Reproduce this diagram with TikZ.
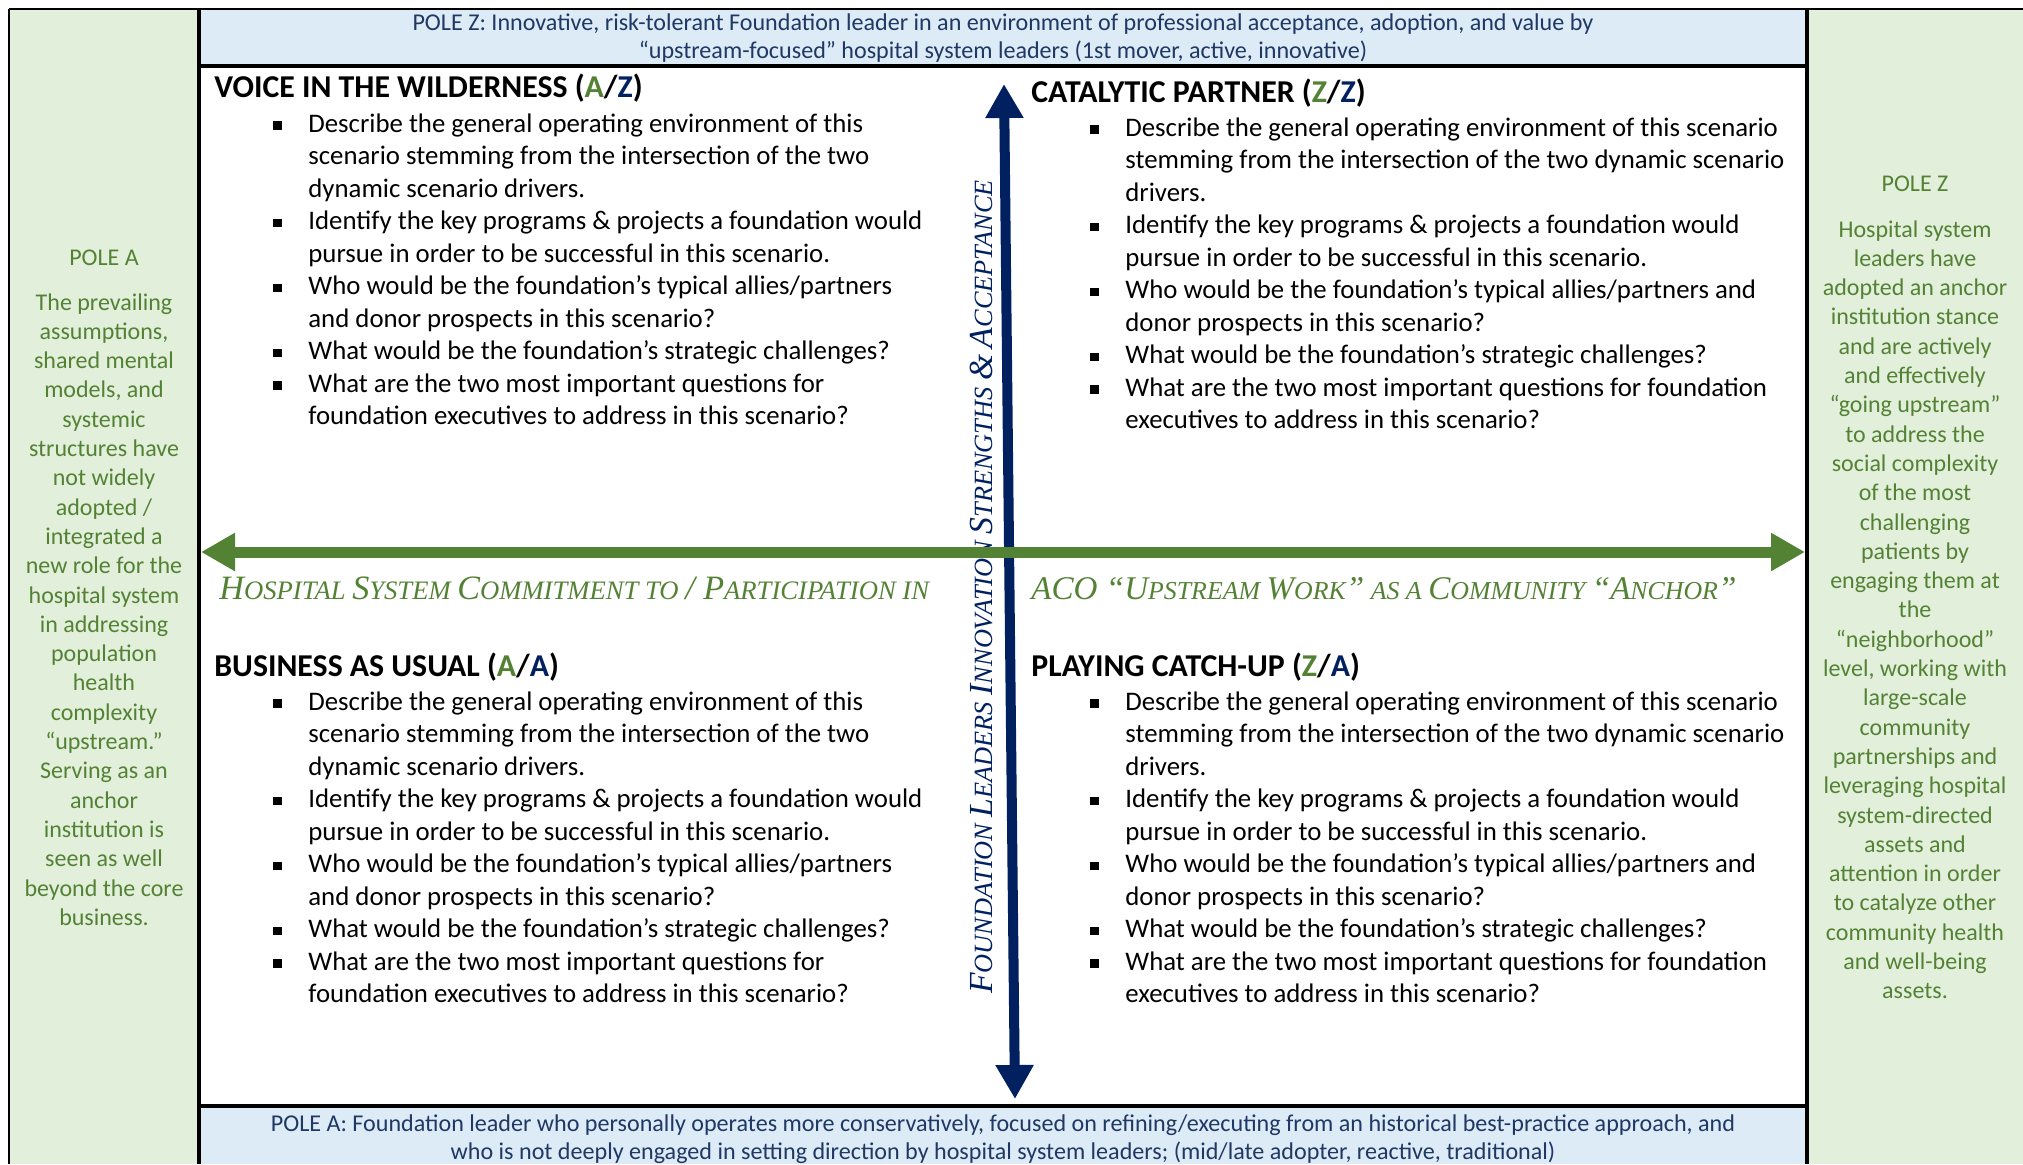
\documentclass[tikz,border=0pt]{standalone}
\usepackage{fontspec}
\setmainfont{Carlito}
\newfontfamily\axfont{Liberation Serif}
\usetikzlibrary{arrows.meta}

\definecolor{panelgreen}{HTML}{E2EFDA}
\definecolor{headblue}{HTML}{DDEBF7}
\definecolor{leafgreen}{HTML}{548235}
\definecolor{navy}{HTML}{002060}
\definecolor{headnavy}{HTML}{1F3864}

% fake italic small caps for the axis captions; \axf scales a caption
\def\axf{1}
\newcommand\capbig[1]{{\fontsize{\fpeval{16.85*\axf}}{20}\selectfont #1}}
\newcommand\capsmall[1]{{\fontsize{\fpeval{13.15*\axf}}{16}\selectfont #1}}

% one bulleted question: square bullet, then the lines of the item
\newcommand\qpoint[1]{\par\noindent\hangindent=47pt\hangafter=1%
  \makebox[47pt][l]{\hspace{29.5pt}\raisebox{1.2pt}{\rule{4.2pt}{4.2pt}}}#1\par}

\newcommand\questionsnarrow{%
\parbox[t]{440pt}{%
\qpoint{Describe the general operating environment of this\\scenario stemming from the intersection of the two\\dynamic scenario drivers.}
\qpoint{Identify the key programs \& projects a foundation would\\pursue in order to be successful in this scenario.}
\qpoint{Who would be the foundation’s typical allies/partners\\and donor prospects in this scenario?}
\qpoint{What would be the foundation’s strategic challenges?}
\qpoint{What are the two most important questions for\\foundation executives to address in this scenario?}}}

\newcommand\questionswide{%
\parbox[t]{440pt}{%
\qpoint{Describe the general operating environment of this scenario\\stemming from the intersection of the two dynamic scenario\\drivers.}
\qpoint{Identify the key programs \& projects a foundation would\\pursue in order to be successful in this scenario.}
\qpoint{Who would be the foundation’s typical allies/partners and\\donor prospects in this scenario?}
\qpoint{What would be the foundation’s strategic challenges?}
\qpoint{What are the two most important questions for foundation\\executives to address in this scenario?}}}

\tikzset{
  qtitle/.style={inner sep=0pt, font=\fontsize{15.9}{18}\selectfont\bfseries},
  qbody/.style={inner sep=0pt, font=\fontsize{13.4}{16.25}\selectfont},
  sidetext/.style={inner sep=0pt, text=leafgreen, font=\fontsize{12}{14.65}\selectfont},
  headtext/.style={inner sep=0pt, text=headnavy, font=\fontsize{12.05}{14.2}\selectfont},
  axislabel/.style={inner sep=0pt, text=leafgreen, font=\axfont\itshape\fontsize{13.15}{16}\selectfont},
  vlabel/.style={inner sep=0pt, text=navy, rotate=90, font=\axfont\itshape\fontsize{13.15}{16}\selectfont},
  navyarrow/.style={draw=navy, line width=5pt,
    {Triangle[length=17pt,width=18pt]}-{Triangle[length=17pt,width=18pt]}},
  greenarrow/.style={draw=leafgreen, line width=5.5pt,
    {Triangle[length=17pt,width=18pt]}-{Triangle[length=17pt,width=18pt]}},
  frameline/.style={draw=black, line width=1.3pt},
  ruleline/.style={draw=black, line width=1.8pt}
}

\begin{document}
\begin{tikzpicture}[x=0.5pt,y=-0.5pt]
\useasboundingbox (0,0) rectangle (2023,1164);
\fill[white] (0,0) rectangle (2023,1164);

% side panels and pole bands
\fill[panelgreen] (9,9) rectangle (199,1164);
\fill[panelgreen] (1807,9) rectangle (2023,1164);
\fill[headblue] (199,9) rectangle (1807,66);
\fill[headblue] (199,1106) rectangle (1807,1164);

% frame
\draw[frameline] (9,9) -- (2023,9);
\draw[frameline] (9,9) -- (9,1164);
\draw[ruleline] (199,9) -- (199,1164);
\draw[ruleline] (1807,9) -- (1807,1164);
\draw[ruleline] (199,66) -- (1807,66);
\draw[ruleline] (199,1106) -- (1807,1106);

% pole Z / pole A bands
\node[headtext, anchor=base] (poleZband) at (1003,30) {\parbox[t]{790pt}{\centering
POLE Z: Innovative, risk-tolerant Foundation leader in an environment of professional acceptance, adoption, and value by\\
“upstream-focused” hospital system leaders (1st mover, active, innovative)}};
\node[headtext, anchor=base] (poleAband) at (1003,1131) {\parbox[t]{790pt}{\centering
POLE A: Foundation leader who personally operates more conservatively, focused on refining/executing from an historical best-practice approach, and\\
who is not deeply engaged in setting direction by hospital system leaders; (mid/late adopter, reactive, traditional)}};

% left panel
\node[sidetext, anchor=base] (poleAhead) at (104,265) {POLE A};
\node[sidetext, anchor=base] (poleAbody) at (104,310) {\parbox[t]{95pt}{\centering
The prevailing\\assumptions,\\shared mental\\models, and\\systemic\\structures have\\not widely\\adopted /\\integrated a\\new role for the\\hospital system\\in addressing\\population\\health\\complexity\\“upstream.”\\Serving as an\\anchor\\institution is\\seen as well\\beyond the core\\business.}};

% right panel
\node[sidetext, anchor=base] (poleZhead) at (1915,191) {POLE Z};
\node[sidetext, anchor=base] (poleZbody) at (1915,237) {\parbox[t]{105pt}{\centering
Hospital system\\leaders have\\adopted an anchor\\institution stance\\and are actively\\and effectively\\“going upstream”\\to address the\\social complexity\\of the most\\challenging\\patients by\\engaging them at\\the\\“neighborhood”\\level, working with\\large-scale\\community\\partnerships and\\leveraging hospital\\system-directed\\assets and\\attention in order\\to catalyze other\\community health\\and well-being\\assets.}};

% quadrant titles
\node[qtitle, anchor=base west] (voicetitle) at (214,97) {VOICE IN THE WILDERNESS (\textcolor{leafgreen}{A}/\textcolor{navy}{Z})};
\node[qtitle, anchor=base west] (catalytictitle) at (1031,102) {CATALYTIC PARTNER (\textcolor{leafgreen}{Z}/\textcolor{navy}{Z})};
\node[qtitle, anchor=base west] (usualtitle) at (214,676) {BUSINESS AS USUAL (\textcolor{leafgreen}{A}/\textcolor{navy}{A})};
\node[qtitle, anchor=base west] (catchuptitle) at (1031,676) {PLAYING CATCH-UP (\textcolor{leafgreen}{Z}/\textcolor{navy}{A})};

% quadrant questions
\node[qbody, anchor=base west] (voicebody) at (214,132) {\questionsnarrow};
\node[qbody, anchor=base west] (catalyticbody) at (1031,136) {\questionswide};
\node[qbody, anchor=base west] (usualbody) at (214,710) {\questionsnarrow};
\node[qbody, anchor=base west] (catchupbody) at (1031,710) {\questionswide};

% axis captions
\node[axislabel, anchor=base west] (hospleft) at (219,599) {\def\axf{1.013}\capbig{H}\capsmall{OSPITAL} \capbig{S}\capsmall{YSTEM} \capbig{C}\capsmall{OMMITMENT TO} \capbig{/ P}\capsmall{ARTICIPATION IN}};
\node[axislabel, anchor=base west] (hospright) at (1031,599) {\def\axf{0.982}\capbig{ACO “U}\capsmall{PSTREAM} \capbig{W}\capsmall{ORK}\capbig{”} \capsmall{AS A} \capbig{C}\capsmall{OMMUNITY} \capbig{“A}\capsmall{NCHOR}\capbig{”}};
\node[vlabel, anchor=base] (foundlabel) at (992,587) {\capbig{F}\capsmall{OUNDATION} \capbig{L}\capsmall{EADERS} \capbig{I}\capsmall{NNOVATION} \capbig{S}\capsmall{TRENGTHS} \capbig{\&} \capbig{A}\capsmall{CCEPTANCE}};

% axes
\coordinate (vtop) at (1004,84);
\coordinate (vbot) at (1015,1099);
\coordinate (hleft) at (201,552);
\coordinate (hright) at (1805,552);
\draw[navyarrow] (vbot) -- (vtop);
\draw[greenarrow] (hleft) -- (hright);
\end{tikzpicture}
\end{document}
